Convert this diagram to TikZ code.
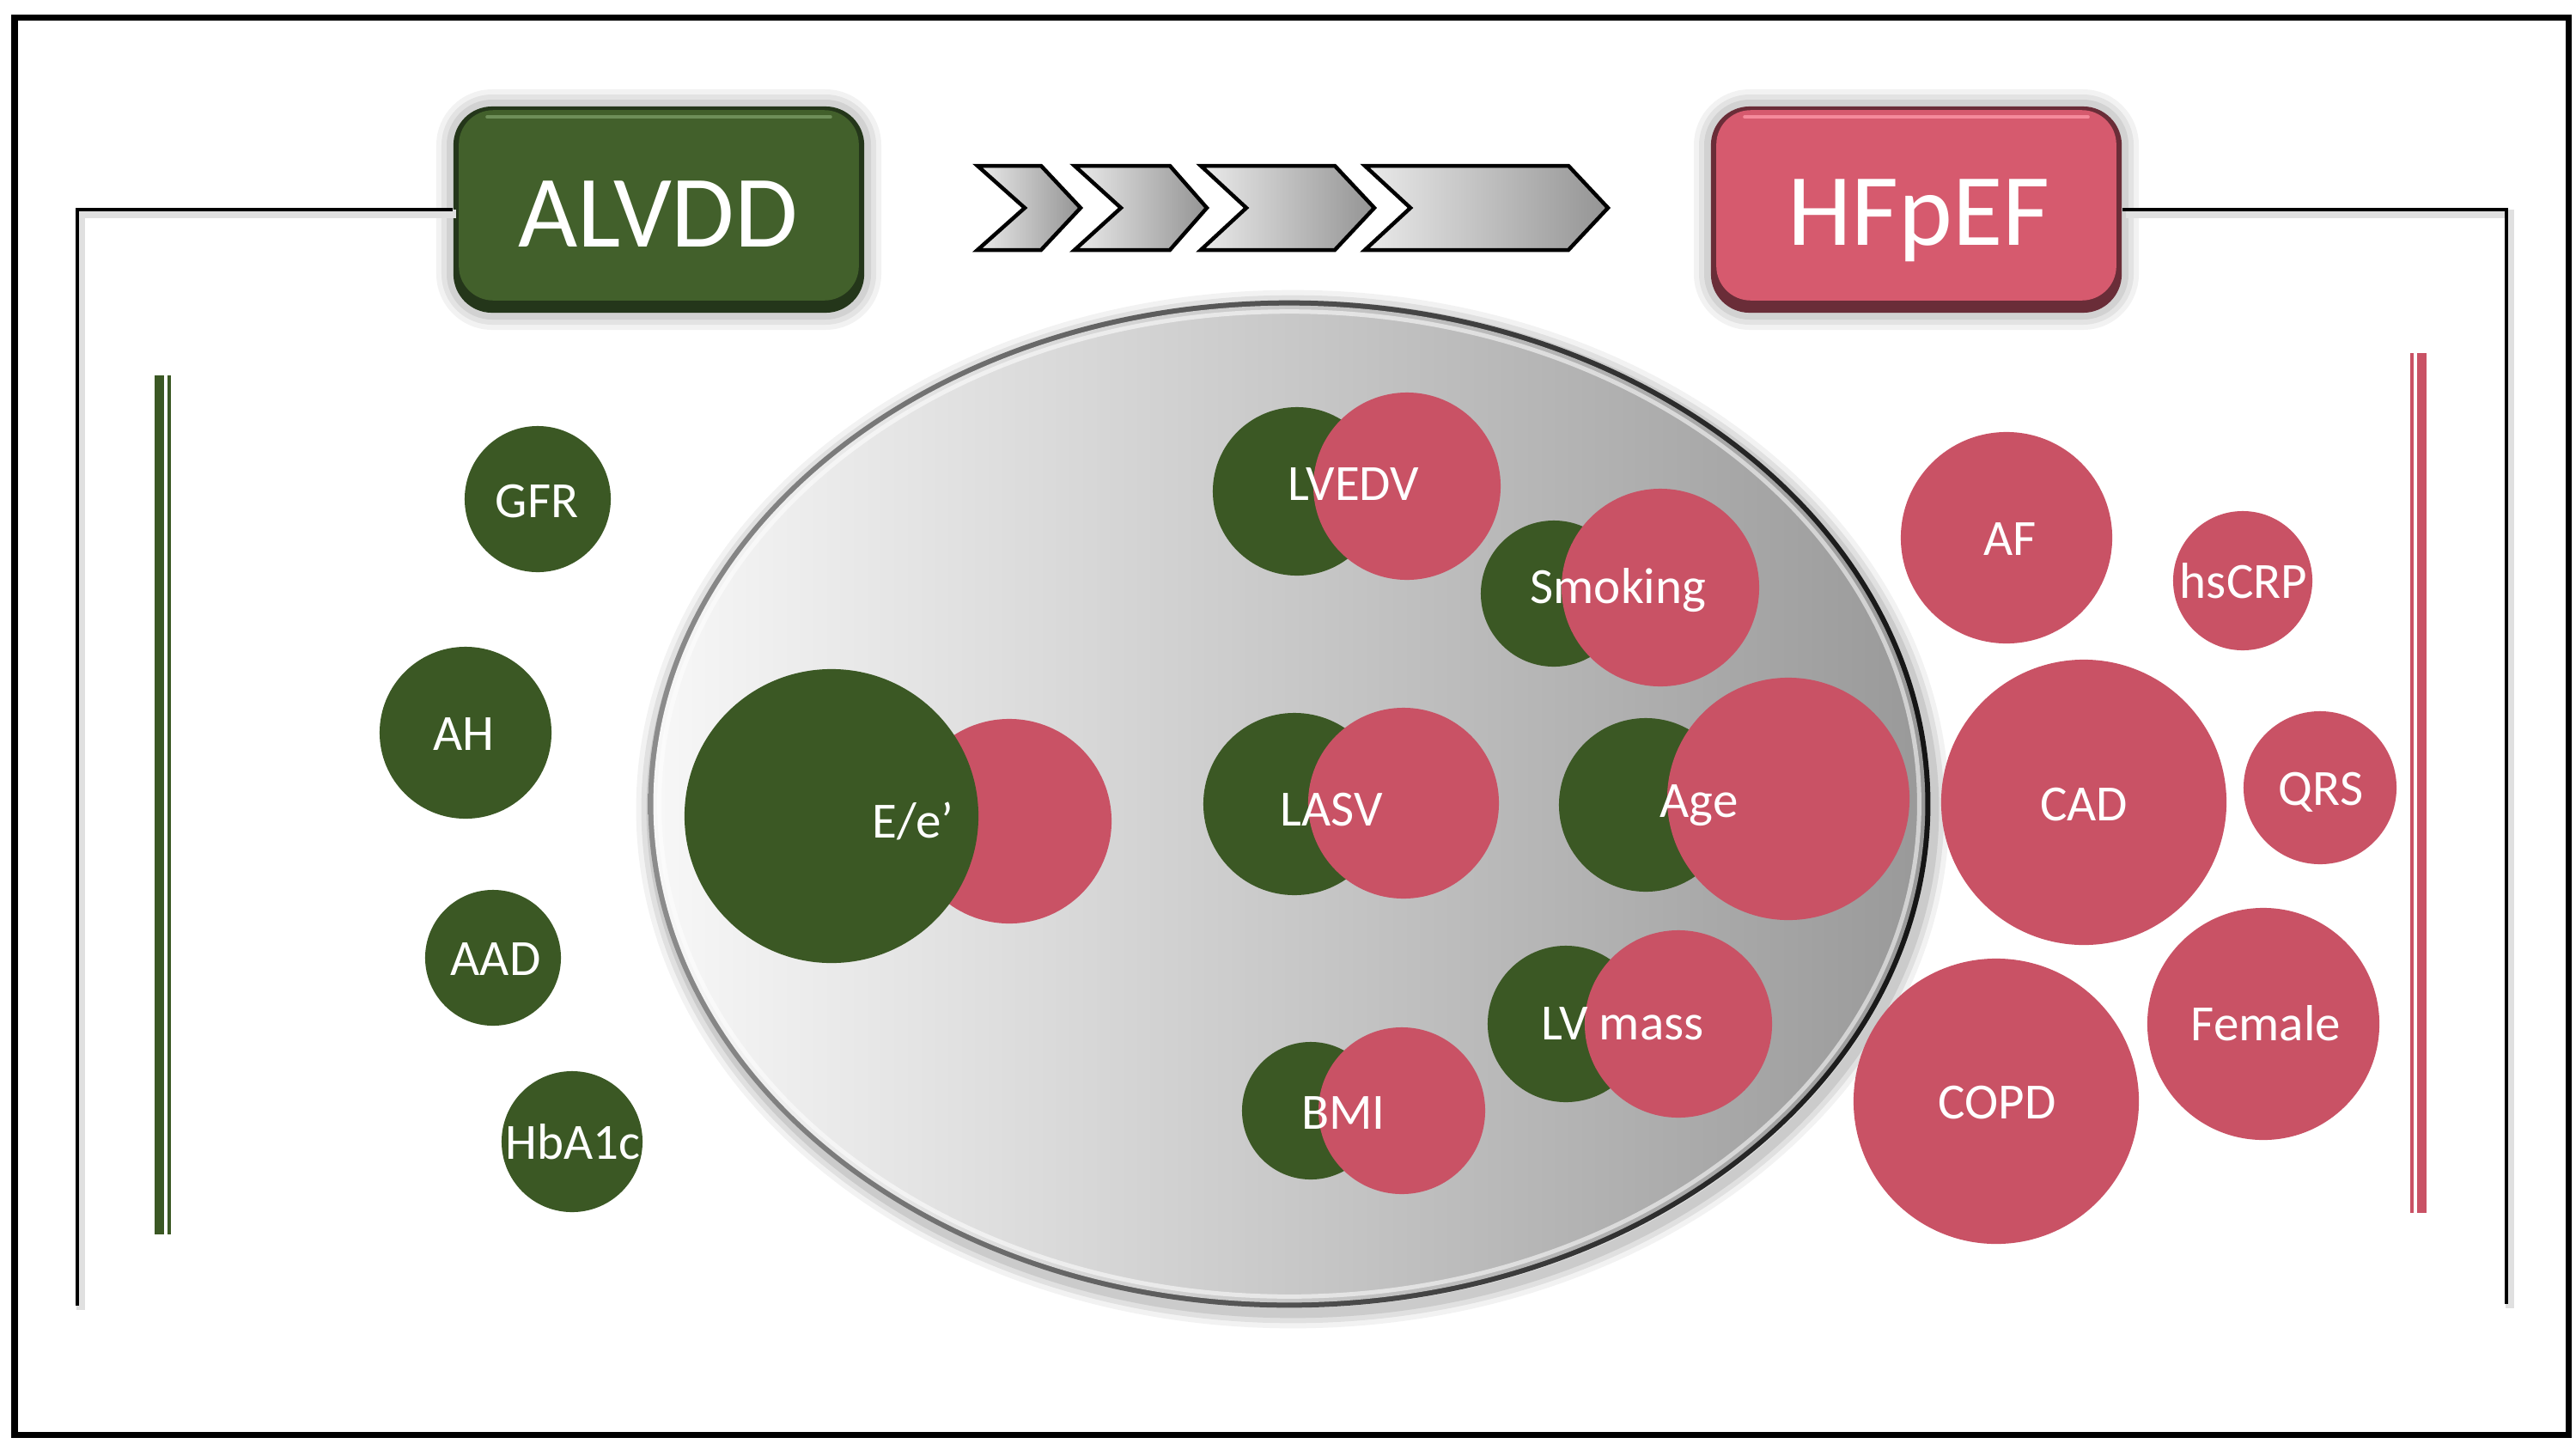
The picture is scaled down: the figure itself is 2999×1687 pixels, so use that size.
\documentclass[tikz,border=0pt]{standalone}
\usepackage{fontspec}
\setmainfont{Carlito}
\definecolor{gfill}{HTML}{3B5824}
\definecolor{pfill}{HTML}{C95265}
\definecolor{bxg}{HTML}{42602B}
\definecolor{bxgd}{HTML}{24361A}
\definecolor{bxgh}{HTML}{6E8E58}
\definecolor{bxp}{HTML}{D65A6E}
\definecolor{bxpd}{HTML}{6A2D38}
\definecolor{bxph}{HTML}{F58A9B}
\tikzset{
  gc/.style={circle, fill=gfill, inner sep=0pt, draw=none},
  pc/.style={circle, fill=pfill, inner sep=0pt, draw=none},
  lbl/.style={text=white, anchor=base, inner sep=0pt, font=\fontsize{16.8pt}{20pt}\selectfont},
  bigbox/.style={rounded corners=0.45cm, minimum width=4.78cm, minimum height=2.40cm, inner sep=0pt},
  titletext/.style={text=white, anchor=base, inner sep=0pt, font=\fontsize{34pt}{40pt}\selectfont},
  chev/.style={left color=black!8, right color=black!42, draw=black, line width=0.045cm, line join=miter},
  bracket/.style={draw=black, line width=0.045cm},
  bracketshadow/.style={draw=black!12, line width=0.10cm},
  glow/.style={draw=black, rounded corners=0.45cm}
}
\begin{document}
\begin{tikzpicture}[x=0.01cm, y=-0.01cm]
\useasboundingbox (0,0) rectangle (2999,1687);
\fill[white] (0,0) rectangle (2999,1687);
% outer frame
\draw[line width=0.07cm] (17,20) rectangle (2990,1670);

% glows behind the boxes
\foreach \lw/\op in {0.40cm/0.05, 0.28cm/0.06, 0.16cm/0.07}{
  \draw[glow, opacity=\op, line width=\lw] (528,124) rectangle (1006,364);
  \draw[glow, opacity=\op, line width=\lw] (1992,124) rectangle (2470,364);
}

% big oval: shadow, rim, body, highlight
\foreach \lw/\op in {0.36cm/0.05, 0.24cm/0.07, 0.12cm/0.09}{
  \draw[black, opacity=\op, line width=\lw] (1505,942) ellipse [x radius=7.46cm, y radius=5.86cm];
}
\shade[left color=black!45, right color=black!92] (1501,936) ellipse [x radius=7.46cm, y radius=5.86cm];
\shade[left color=black!3, right color=black!40] (1501,936) ellipse [x radius=7.40cm, y radius=5.80cm];
\draw[white, opacity=0.55, line width=0.05cm] (1501,936) ellipse [x radius=7.33cm, y radius=5.73cm];

% title boxes
\node[bigbox, fill=bxgd] (alvdd) at (767,244) {};
\fill[bxg, rounded corners=0.40cm] ([xshift=0.07cm,yshift=-0.05cm]alvdd.north west) rectangle ([xshift=-0.07cm,yshift=0.15cm]alvdd.south east);
\draw[bxgh, line width=0.04cm, line cap=round] ([xshift=0.40cm,yshift=-0.13cm]alvdd.north west) -- ([xshift=-0.40cm,yshift=-0.13cm]alvdd.north east);
\node[titletext] (alvddt) at (766,287) {ALVDD};

\node[bigbox, fill=bxpd] (hfpef) at (2231,244) {};
\fill[bxp, rounded corners=0.40cm] ([xshift=0.07cm,yshift=-0.05cm]hfpef.north west) rectangle ([xshift=-0.07cm,yshift=0.15cm]hfpef.south east);
\draw[bxph, line width=0.04cm, line cap=round] ([xshift=0.40cm,yshift=-0.13cm]hfpef.north west) -- ([xshift=-0.40cm,yshift=-0.13cm]hfpef.north east);
\node[titletext] (hfpeft) at (2234,285) {HFpEF};

% brackets
\coordinate (lb) at (90,1520);
\coordinate (rb) at (2918,1518);
\draw[bracketshadow] ([xshift=0.04cm,yshift=-0.05cm]alvdd.west) -| ([xshift=0.04cm,yshift=-0.05cm]lb);
\draw[bracketshadow] ([xshift=0.04cm,yshift=-0.05cm]hfpef.east) -| ([xshift=0.04cm,yshift=-0.05cm]rb);
\draw[bracket] (alvdd.west) -| (lb);
\draw[bracket] (hfpef.east) -| (rb);

% double side lines
\fill[gfill] (180,437) rectangle (191,1437);
\fill[gfill] (195,437) rectangle (199,1437);
\fill[pfill] (2806,411) rectangle (2810,1412);
\fill[pfill] (2814,411) rectangle (2825,1412);

% chevrons
\shadedraw[chev] (1138,193) -- (1212,193) -- (1258,242) -- (1212,291) -- (1138,291) -- (1193,242) -- cycle;
\shadedraw[chev] (1251,193) -- (1362,193) -- (1405,242) -- (1362,291) -- (1251,291) -- (1305,242) -- cycle;
\shadedraw[chev] (1398,193) -- (1554,193) -- (1600,242) -- (1554,291) -- (1398,291) -- (1451,242) -- cycle;
\shadedraw[chev] (1589,193) -- (1826,193) -- (1872,242) -- (1826,291) -- (1589,291) -- (1642,242) -- cycle;

% left green circles
\node[gc, minimum size=1.70cm] (gfr) at (626,581) {};
\node[gc, minimum size=2.00cm] (ah) at (542,853) {};
\node[gc, minimum size=1.58cm] (aad) at (574,1115) {};
\node[gc, minimum size=1.64cm] (hba) at (666,1329) {};

% right pink circles
\node[pc, minimum size=2.46cm] (af) at (2336,626) {};
\node[pc, minimum size=1.62cm] (hscrp) at (2611,676) {};
\node[pc, minimum size=3.32cm] (cad) at (2426,934) {};
\node[pc, minimum size=1.78cm] (qrs) at (2701,917) {};
\node[pc, minimum size=2.70cm] (female) at (2635,1192) {};
\node[pc, minimum size=3.32cm] (copd) at (2324,1282) {};

% pairs inside the oval
\node[pc, minimum size=2.38cm] (eep) at (1175,956) {};
\node[gc, minimum size=3.42cm] (eeg) at (968,950) {};

\node[gc, minimum size=1.96cm] (lvedvg) at (1510,572) {};
\node[pc, minimum size=2.18cm] (lvedvp) at (1638,566) {};

\node[gc, minimum size=1.70cm] (smokg) at (1809,691) {};
\node[pc, minimum size=2.30cm] (smokp) at (1933,684) {};

\node[gc, minimum size=2.12cm] (lasvg) at (1507,936) {};
\node[pc, minimum size=2.22cm] (lasvp) at (1634,935) {};

\node[gc, minimum size=2.02cm] (ageg) at (1916,937) {};
\node[pc, minimum size=2.82cm] (agep) at (2082,930) {};

\node[gc, minimum size=1.82cm] (lvmg) at (1823,1192) {};
\node[pc, minimum size=2.18cm] (lvmp) at (1954,1192) {};

\node[gc, minimum size=1.60cm] (bmig) at (1526,1293) {};
\node[pc, minimum size=1.94cm] (bmip) at (1632,1293) {};

% labels
\node[lbl] (gfrt) at (625,602) {GFR};
\node[lbl] (aht) at (540,873) {AH};
\node[lbl] (aadt) at (577,1135) {AAD};
\node[lbl] (hbat) at (667,1349) {HbA1c};

\node[lbl] (aft) at (2340,646) {AF};
\node[lbl] (hscrpt) at (2612,696) {hsCRP};
\node[lbl] (cadt) at (2426,955) {CAD};
\node[lbl] (qrst) at (2702,937) {QRS};
\node[lbl] (femalet) at (2638,1211) {Female};
\node[lbl] (copdt) at (2325,1302) {COPD};

\node[lbl] (eet) at (1063,975) {E/e’};
\node[lbl] (lvedvt) at (1576,582) {LVEDV};
\node[lbl] (smokt) at (1884,702) {Smoking};
\node[lbl] (lasvt) at (1550,961) {LASV};
\node[lbl] (aget) at (1978,951) {Age};
\node[lbl] (lvmt) at (1889,1210) {LV mass};
\node[lbl] (bmit) at (1564,1314) {BMI};
\end{tikzpicture}
\end{document}
